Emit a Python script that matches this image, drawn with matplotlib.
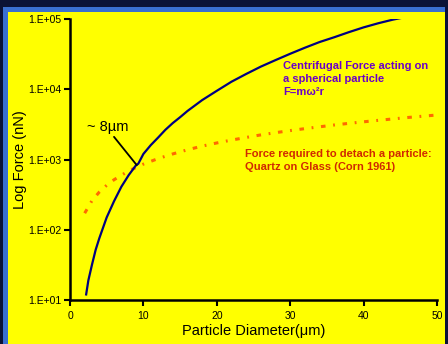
import matplotlib
matplotlib.use("Agg")
import matplotlib.pyplot as plt
from matplotlib.patches import Rectangle

plt.rcParams['font.family'] = ['Liberation Sans', 'DejaVu Sans']

# centrifugal force curve
d_cf = [2.2, 2.5, 3, 3.5, 4, 5, 6, 7, 8, 9, 9.3, 10, 11, 12, 13, 14, 15, 16, 18, 20,
        22, 24, 26, 28, 30, 32, 34, 36, 38, 40, 42, 44, 46]
f_cf = [12, 19, 32, 52, 76, 150, 255, 410, 600, 830, 870, 1200, 1600, 2050, 2650, 3300,
        4000, 4900, 7000, 9500, 12800, 16500, 21000, 26000, 32000, 39000, 47000, 55000,
        65000, 76000, 87000, 98000, 108000]

# detach force (Corn 1961)
d_det = [2, 3, 4, 5, 6, 8, 10, 12, 14, 16, 18, 20, 22, 24, 26, 28, 30, 32, 34, 36,
         38, 40, 42, 44, 46, 48, 50]
f_det = [172, 260, 345, 430, 515, 690, 860, 1030, 1200, 1375, 1550, 1720, 1890, 2060,
         2240, 2410, 2580, 2750, 2920, 3100, 3270, 3440, 3610, 3780, 3960, 4130, 4300]

x_ticks = [0, 10, 20, 30, 40, 50]
y_ticks = [1e1, 1e2, 1e3, 1e4, 1e5]
y_labels = ['1.E+01', '1.E+02', '1.E+03', '1.E+04', '1.E+05']

cross = (9.1, 830)
cross_label = (2.3, 2300)

fig = plt.figure(figsize=(4.48, 3.44), dpi=100)
fig.patch.set_facecolor('#0b1236')
# slide frame
fig.add_artist(Rectangle((3 / 448, 0), 442 / 448, 337 / 344, transform=fig.transFigure,
                         facecolor='#3a6fd0', edgecolor='none', zorder=-2))
fig.add_artist(Rectangle((8 / 448, 0), 437 / 448, 332 / 344, transform=fig.transFigure,
                         facecolor='#ffff00', edgecolor='none', zorder=-1))

ax = fig.add_axes([70 / 448, 1 - 300 / 344, 367 / 448, 281 / 344])
ax.set_facecolor('#ffff00')

ax.plot(d_cf, f_cf, color='#000080', lw=1.6, zorder=3)
ax.plot(d_det, f_det, color='#ff6a00', lw=2.2, linestyle=(0, (1.5, 2.5, 0.6, 2.5)), zorder=2)

ax.set_yscale('log')
ax.set_xlim(0, 50)
ax.set_ylim(1e1, 1e5)
ax.set_xticks(x_ticks)
ax.set_yticks(y_ticks)
ax.set_yticklabels(y_labels)
ax.minorticks_off()
ax.tick_params(labelsize=7.5, width=1.5, length=4, pad=2, colors='black')
ax.tick_params(axis='x', pad=4)

for side in ['top', 'right']:
    ax.spines[side].set_visible(False)
for side in ['left', 'bottom']:
    ax.spines[side].set_linewidth(1.8)

ax.set_xlabel('Particle Diameter(\u03bcm)', fontsize=10.5, labelpad=2)
ax.set_ylabel('Log Force (nN)', fontsize=10.5)
ax.yaxis.set_label_coords(-0.116, 0.5)

ax.annotate('~ 8\u00b5m', xy=cross, xytext=cross_label, fontsize=10.5,
            ha='left', va='bottom',
            arrowprops=dict(arrowstyle='-', color='black', lw=1.3,
                            shrinkA=0, shrinkB=0, relpos=(0.6, 0)))

ax.text(29.0, 25000, 'Centrifugal Force acting on\na spherical particle\nF=m\u03c9\u00b2r',
        color='#6a00c8', fontsize=8, fontweight='bold', ha='left', va='top',
        linespacing=1.35)
ax.text(23.8, 1400, 'Force required to detach a particle:\nQuartz on Glass (Corn 1961)',
        color='#d02a00', fontsize=8, fontweight='bold', ha='left', va='top',
        linespacing=1.35)

fig.savefig('out.png', dpi=100, facecolor=fig.get_facecolor())
